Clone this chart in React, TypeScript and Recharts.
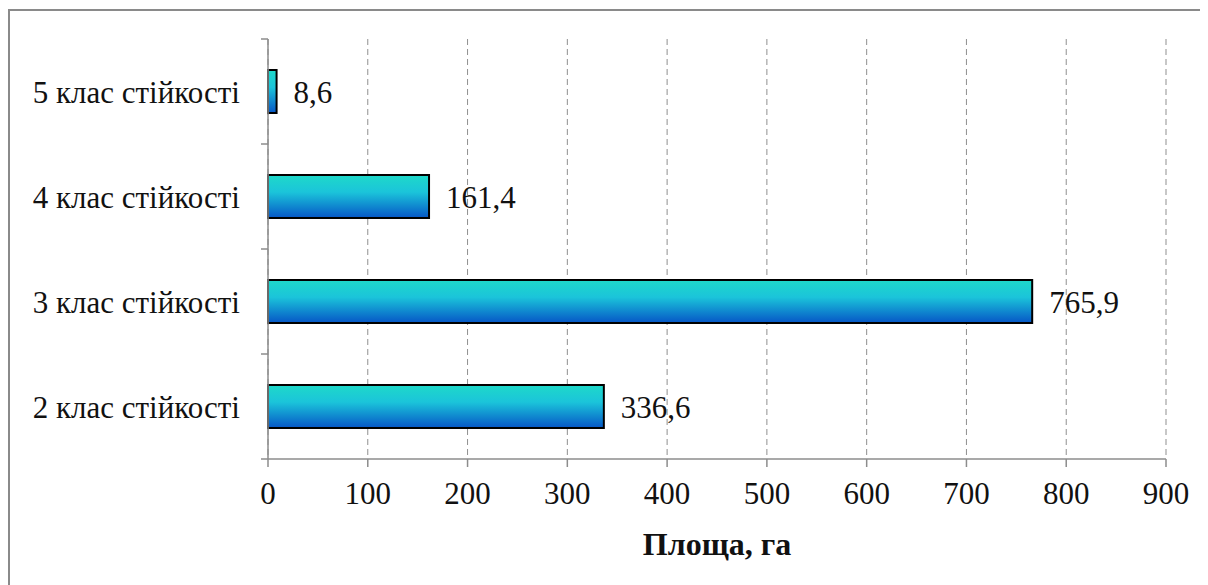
import React from 'react';
import {
  BarChart,
  Bar,
  XAxis,
  YAxis,
  CartesianGrid,
  LabelList,
} from 'recharts';

const categories = [
  '5 клас стійкості',
  '4 клас стійкості',
  '3 клас стійкості',
  '2 клас стійкості',
];
const areas = [8.6, 161.4, 765.9, 336.6];
const xTicks = [0, 100, 200, 300, 400, 500, 600, 700, 800, 900];

const data = categories.map((name, i) => ({ name, area: areas[i] }));

const FONT = '"Liberation Serif", "Times New Roman", serif';
const AXIS = '#8c8c8c';
const CHART_W = 1196;
const CHART_H = 600;
const MARGIN = { top: 28, right: 40, left: 10, bottom: 72 };
const Y_AXIS_W = 248;
const X_AXIS_H = 80;
const PLOT_H = CHART_H - MARGIN.top - MARGIN.bottom - X_AXIS_H;
const BAND = PLOT_H / categories.length;
const textStyle = { fontSize: 31, fontFamily: FONT, fill: '#111' };

// category label at band centre, tick marks at band edges
const CategoryTick = (props: any) => {
  const { x, y, payload, index } = props;
  const axisX = x + 8;
  return (
    <g>
      <line x1={axisX - 7} x2={axisX} y1={y - BAND / 2} y2={y - BAND / 2} stroke={AXIS} strokeWidth={1.5} />
      {index === categories.length - 1 && (
        <line x1={axisX - 7} x2={axisX} y1={y + BAND / 2} y2={y + BAND / 2} stroke={AXIS} strokeWidth={1.5} />
      )}
      <text x={x - 20} y={y} dy={11} textAnchor="end" style={textStyle}>
        {payload.value}
      </text>
    </g>
  );
};

const fmt = (v: any) => String(v).replace('.', ',');

export default function App() {
  return (
    <div
      style={{
        width: CHART_W,
        height: CHART_H,
        border: '2px solid #8a8a8a',
        marginTop: 1,
        background: '#fff',
        fontFamily: FONT,
      }}
    >
      <BarChart
        width={CHART_W}
        height={CHART_H}
        data={data}
        layout="vertical"
        margin={MARGIN}
        barCategoryGap={31}
      >
        <defs>
          <linearGradient id="barFill" x1="0" y1="0" x2="0" y2="1">
            <stop offset="0%" stopColor="#1ed9c9" />
            <stop offset="40%" stopColor="#1bc4da" />
            <stop offset="100%" stopColor="#0656c6" />
          </linearGradient>
        </defs>
        <CartesianGrid
          horizontal={false}
          strokeDasharray="6 4"
          stroke="#8f8f8f"
          strokeWidth={1}
        />
        <XAxis
          type="number"
          domain={[0, 900]}
          ticks={xTicks}
          height={X_AXIS_H}
          stroke={AXIS}
          strokeWidth={1.5}
          tickSize={8}
          tickMargin={15}
          tick={{ style: textStyle }}
          label={{
            value: 'Площа, га',
            position: 'insideBottom',
            offset: -16,
            style: { ...textStyle, fontSize: 32, fontWeight: 'bold' },
          }}
        />
        <YAxis
          type="category"
          dataKey="name"
          width={Y_AXIS_W}
          stroke={AXIS}
          strokeWidth={1.5}
          tickLine={false}
          tick={<CategoryTick />}
        />
        <Bar
          dataKey="area"
          fill="url(#barFill)"
          stroke="#000"
          strokeWidth={2}
          isAnimationActive={false}
        >
          <LabelList
            dataKey="area"
            position="right"
            offset={17}
            formatter={fmt}
            style={textStyle}
          />
        </Bar>
      </BarChart>
    </div>
  );
}
